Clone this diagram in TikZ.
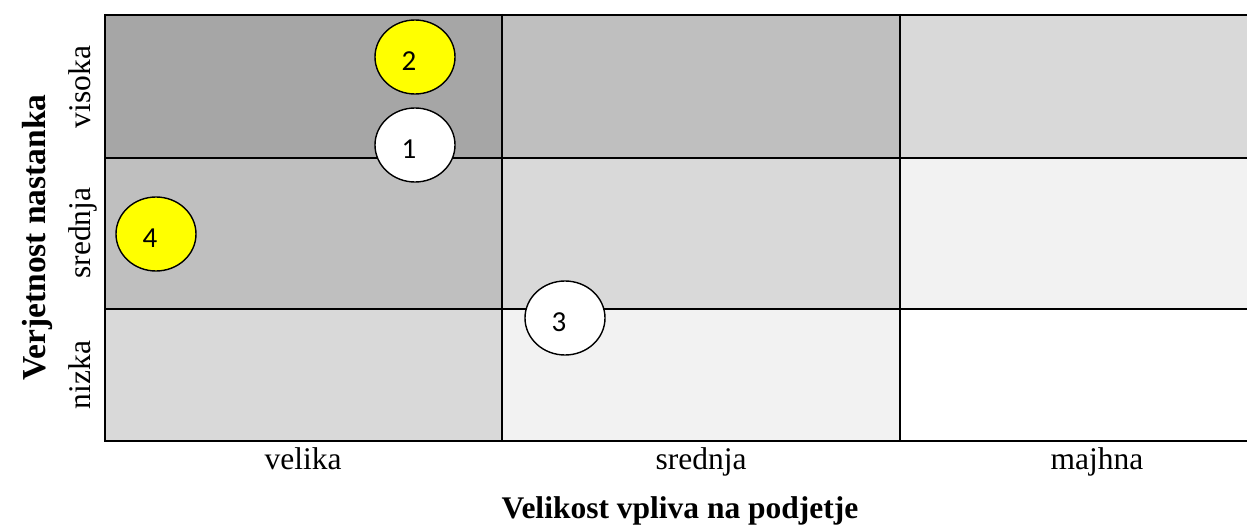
\documentclass[tikz,border=0pt]{standalone}
\usepackage{fontspec}
\setmainfont{Liberation Serif}
\newfontfamily\numfont{Carlito}
\usetikzlibrary{shapes.geometric}
\definecolor{gA}{HTML}{A6A6A6}
\definecolor{gB}{HTML}{BFBFBF}
\definecolor{gC}{HTML}{D9D9D9}
\definecolor{gD}{HTML}{F2F2F2}
\definecolor{yel}{HTML}{FFFF00}
\tikzset{
  gridline/.style={line width=2pt, black},
  numlab/.style={inner sep=0pt, xshift=-6pt, yshift=-4pt, font=\numfont\fontsize{29}{32}\selectfont},
  risk/.style={ellipse, draw=black, line width=1.4pt, minimum width=80pt, minimum height=74pt, inner sep=0pt, label={[numlab]center:#1}},
  hilite/.style={risk=#1, fill=yel},
  plain/.style={risk=#1, fill=white},
  lab/.style={font=\fontsize{31.5}{36}\selectfont, inner sep=0pt},
  title/.style={font=\bfseries\fontsize{31.5}{36}\selectfont, inner sep=0pt}
}
\begin{document}
\begin{tikzpicture}[x=1pt,y=-1pt]
\useasboundingbox (0,0) rectangle (1247,532);
% cells
\fill[gA] (105,15) rectangle (502,158);
\fill[gB] (502,15) rectangle (900,158);
\fill[gC] (900,15) rectangle (1247,158);
\fill[gB] (105,158) rectangle (502,309);
\fill[gC] (502,158) rectangle (900,309);
\fill[gD] (900,158) rectangle (1247,309);
\fill[gC] (105,309) rectangle (502,441);
\fill[gD] (502,309) rectangle (900,441);
\fill[white] (900,309) rectangle (1247,441);
% grid lines
\draw[gridline] (105,15) -- (1247,15);
\draw[gridline] (105,158) -- (1247,158);
\draw[gridline] (105,309) -- (1247,309);
\draw[gridline] (105,441) -- (1247,441);
\draw[gridline] (105,14) -- (105,442);
\draw[gridline] (502,14) -- (502,442);
\draw[gridline] (900,14) -- (900,442);
% circles
\node[hilite=2] (r2) at (415,57) {};
\node[plain=1] (r1) at (415,145) {};
\node[hilite=4] (r4) at (156,234) {};
\node[plain=3] (r3) at (565,318) {};
% row labels
\node[lab, rotate=90, anchor=base] (lvis) at (90,87) {visoka};
\node[lab, rotate=90, anchor=base] (lsre) at (90,233) {srednja};
\node[lab, rotate=90, anchor=base] (lniz) at (90,375) {nizka};
% column labels
\node[lab, anchor=base] (cvel) at (303,469) {velika};
\node[lab, anchor=base] (csre) at (701,469) {srednja};
\node[lab, anchor=base] (cmaj) at (1097,469) {majhna};
% axis titles
\node[title, font=\bfseries\fontsize{33.5}{38}\selectfont, rotate=90, anchor=base] (ty) at (45,237.5) {Verjetnost nastanka};
\node[title, anchor=base] (tx) at (680,518) {Velikost vpliva na podjetje};
\end{tikzpicture}
\end{document}
